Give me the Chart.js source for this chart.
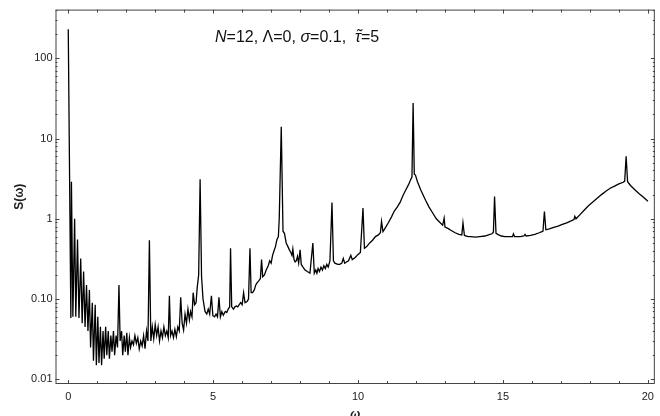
<!DOCTYPE html>
<html lang="en">
<head>
  <meta charset="UTF-8">
  <title>S(ω) spectrum</title>
  <style>
    body { margin: 0; background: white; }
    .container { width: 660px; height: 416px; }
  </style>
</head>
<body>
  <div class="container">
    <canvas id="spectrum-chart" width="660" height="416"></canvas>
  </div>

  <script src="https://cdn.jsdelivr.net/npm/chart.js@4.4.1/dist/chart.umd.min.js"></script>
  <script>
    // [ω, S(ω)], split by frequency band
    const lowBand = [
      [0, 230], [0.09, 0.058], [0.11, 2.9], [0.16, 0.06], [0.22, 1.0], [0.26, 0.06],
      [0.32, 0.55], [0.37, 0.058], [0.43, 0.32], [0.48, 0.05], [0.53, 0.22], [0.58, 0.045],
      [0.63, 0.15], [0.68, 0.04], [0.73, 0.13], [0.77, 0.025], [0.83, 0.09], [0.87, 0.017],
      [0.93, 0.085], [0.97, 0.015], [1.02, 0.06], [1.06, 0.016], [1.11, 0.045], [1.15, 0.015],
      [1.2, 0.04], [1.24, 0.018], [1.29, 0.045], [1.33, 0.02], [1.38, 0.04], [1.42, 0.018],
      [1.47, 0.035], [1.51, 0.022], [1.56, 0.04], [1.6, 0.02], [1.65, 0.035], [1.7, 0.025]
    ];
    const midBand = [
      [1.75, 0.15], [1.79, 0.03], [1.84, 0.04], [1.88, 0.02], [1.93, 0.035], [1.97, 0.022],
      [2.02, 0.038], [2.06, 0.02], [2.11, 0.033], [2.15, 0.025], [2.2, 0.03], [2.25, 0.027],
      [2.3, 0.035], [2.35, 0.028], [2.4, 0.033], [2.45, 0.024], [2.5, 0.03], [2.55, 0.026],
      [2.6, 0.035], [2.65, 0.024], [2.7, 0.04], [2.75, 0.03], [2.8, 0.54], [2.85, 0.03],
      [2.9, 0.045], [2.95, 0.032], [3.0, 0.048], [3.05, 0.035], [3.1, 0.045], [3.15, 0.03],
      [3.2, 0.04], [3.25, 0.033], [3.3, 0.045], [3.35, 0.035], [3.4, 0.04], [3.45, 0.033],
      [3.49, 0.11], [3.53, 0.035], [3.58, 0.04], [3.63, 0.033], [3.68, 0.042], [3.73, 0.034],
      [3.78, 0.045], [3.83, 0.04], [3.88, 0.105], [3.93, 0.05], [3.98, 0.041], [4.03, 0.065],
      [4.08, 0.05], [4.13, 0.075], [4.18, 0.055], [4.22, 0.07], [4.27, 0.06], [4.31, 0.12],
      [4.36, 0.085], [4.41, 0.09], [4.45, 0.14], [4.5, 0.2], [4.55, 3.1], [4.6, 0.19],
      [4.65, 0.1]
    ];
    const band3 = [
      [4.72, 0.07], [4.78, 0.065], [4.83, 0.075], [4.88, 0.065], [4.94, 0.11], [4.99, 0.062],
      [5.05, 0.06], [5.1, 0.065], [5.15, 0.06], [5.2, 0.105], [5.25, 0.06], [5.3, 0.07],
      [5.35, 0.063], [5.42, 0.07], [5.47, 0.068], [5.52, 0.075], [5.57, 0.08], [5.6, 0.43],
      [5.64, 0.08], [5.7, 0.075], [5.75, 0.08], [5.8, 0.082], [5.85, 0.08], [5.9, 0.085],
      [5.95, 0.09], [6.0, 0.085], [6.05, 0.12], [6.1, 0.09], [6.17, 0.093], [6.22, 0.1],
      [6.27, 0.43], [6.31, 0.12], [6.36, 0.12], [6.42, 0.13], [6.47, 0.15], [6.52, 0.16],
      [6.58, 0.17], [6.63, 0.18], [6.67, 0.31], [6.71, 0.19], [6.77, 0.2], [6.83, 0.23],
      [6.9, 0.26], [6.95, 0.3], [7.0, 0.28], [7.05, 0.35], [7.1, 0.4], [7.15, 0.45],
      [7.2, 0.55], [7.25, 0.6], [7.28, 1.0], [7.35, 14], [7.41, 0.7], [7.46, 0.66]
    ];
    const band4 = [
      [7.52, 0.5], [7.58, 0.45], [7.63, 0.41], [7.68, 0.38], [7.72, 0.35], [7.75, 0.42],
      [7.79, 0.31], [7.83, 0.29], [7.87, 0.3], [7.91, 0.34], [7.95, 0.28], [8.0, 0.41],
      [8.04, 0.27], [8.1, 0.25], [8.17, 0.23], [8.25, 0.22], [8.34, 0.21], [8.44, 0.5],
      [8.49, 0.21], [8.54, 0.23], [8.58, 0.21], [8.62, 0.24], [8.67, 0.22], [8.72, 0.25],
      [8.77, 0.23], [8.82, 0.26], [8.87, 0.24], [8.92, 0.27], [8.97, 0.25], [9.03, 0.3],
      [9.1, 1.6], [9.15, 0.3], [9.2, 0.28], [9.3, 0.27], [9.37, 0.27], [9.44, 0.28],
      [9.49, 0.32], [9.54, 0.28], [9.6, 0.29], [9.67, 0.3], [9.75, 0.35], [9.8, 0.31],
      [9.9, 0.33], [10.0, 0.36], [10.08, 0.38], [10.17, 1.36], [10.22, 0.43], [10.3, 0.45],
      [10.4, 0.5], [10.5, 0.54], [10.6, 0.6], [10.7, 0.63], [10.77, 0.67], [10.81, 0.93],
      [10.86, 0.69], [10.95, 0.78]
    ];
    const band5 = [
      [11.05, 0.9], [11.15, 1.05], [11.25, 1.25], [11.35, 1.4], [11.45, 1.6], [11.55, 1.95],
      [11.65, 2.3], [11.75, 2.7], [11.82, 3.1], [11.86, 3.3], [11.9, 27.8], [11.94, 3.6],
      [11.98, 3.5], [12.05, 2.9], [12.16, 2.3], [12.33, 1.7], [12.45, 1.4], [12.57, 1.19],
      [12.7, 1.0], [12.8, 0.92], [12.92, 0.83], [12.97, 1.02], [13.0, 0.79], [13.1, 0.76],
      [13.2, 0.72], [13.35, 0.67], [13.48, 0.64], [13.58, 0.63], [13.62, 0.89], [13.67, 0.62],
      [13.8, 0.6], [13.9, 0.6], [14.04, 0.59], [14.2, 0.6], [14.38, 0.61], [14.5, 0.63],
      [14.62, 0.65], [14.67, 0.68], [14.71, 1.9], [14.76, 0.66], [14.85, 0.63], [14.95, 0.61],
      [15.07, 0.6], [15.2, 0.6], [15.33, 0.6], [15.36, 0.65], [15.4, 0.6]
    ];
    const band6 = [
      [15.5, 0.6], [15.6, 0.6], [15.72, 0.61], [15.76, 0.64], [15.8, 0.61], [15.95, 0.62],
      [16.1, 0.64], [16.25, 0.67], [16.38, 0.7], [16.43, 1.23], [16.48, 0.73], [16.6, 0.75],
      [16.75, 0.78], [16.9, 0.81], [17.05, 0.85], [17.2, 0.89], [17.35, 0.94], [17.45, 0.98],
      [17.48, 1.07], [17.52, 1.0], [17.65, 1.12], [17.8, 1.28], [17.95, 1.45], [18.1, 1.62],
      [18.25, 1.8], [18.4, 2.0], [18.55, 2.2], [18.7, 2.4], [18.85, 2.55], [19.0, 2.72],
      [19.15, 2.85], [19.2, 2.95], [19.25, 6.0], [19.3, 2.9], [19.4, 2.6], [19.55, 2.3],
      [19.7, 2.05], [19.85, 1.85], [20.0, 1.65]
    ];

    const X_TICKS = [0, 1, 2, 3, 4, 5, 6, 7, 8, 9, 10, 11, 12, 13, 14, 15, 16, 17, 18, 19, 20];
    const X_LABELS = { 0: '0', 5: '5', 10: '10', 15: '15', 20: '20' };
    const Y_DECADES = [0.01, 0.1, 1, 10, 100];
    const Y_LABELS = ['0.01', '0.10', '1', '10', '100'];
    const Y_MANTISSAS = [1, 2, 3, 4, 5, 6, 7, 8, 9];
    // [text, italic, tilde above]
    const TITLE_PARTS = [
      ['N', true, false], ['=12, \u039B=0, ', false, false], ['\u03C3', true, false],
      ['=0.1,  ', false, false], ['\u03C4', true, true], ['=5', false, false]
    ];

    const X_MIN = -0.44, X_MAX = 20.24;
    const Y_MIN = 0.00874, Y_MAX = 404;
    const FONT = "'Liberation Sans', Arial, sans-serif";

    const yTicks = [];
    for (const d of Y_DECADES) {
      for (const m of Y_MANTISSAS) {
        const v = +(d * m).toPrecision(3);
        if (v >= Y_MIN && v <= Y_MAX) yTicks.push(v);
      }
    }

    function yLabel(v) {
      const i = Y_DECADES.findIndex(d => Math.abs(d - v) / d < 1e-6);
      return i === -1 ? '' : Y_LABELS[i];
    }

    const spectrum = [...lowBand, ...midBand, ...band3, ...band4, ...band5, ...band6]
      .map(([x, y]) => ({ x, y }));

    // frame with inward tick marks on all four sides
    const frameTicks = {
      id: 'frameTicks',
      afterDatasetsDraw(chart) {
        const { ctx, chartArea: a, scales: { x, y } } = chart;
        ctx.save();
        ctx.strokeStyle = '#444';
        ctx.lineWidth = 1;
        ctx.strokeRect(a.left + 0.5, a.top + 0.5, a.right - a.left - 1, a.bottom - a.top - 1);
        ctx.beginPath();
        for (const v of X_TICKS) {
          const px = Math.round(x.getPixelForValue(v)) + 0.5;
          const len = v % 5 === 0 ? 4 : 3;
          ctx.moveTo(px, a.bottom); ctx.lineTo(px, a.bottom - len);
          ctx.moveTo(px, a.top); ctx.lineTo(px, a.top + len);
        }
        for (const v of yTicks) {
          const py = Math.round(y.getPixelForValue(v)) + 0.5;
          const len = yLabel(v) ? 4 : 2;
          ctx.moveTo(a.left, py); ctx.lineTo(a.left + len, py);
          ctx.moveTo(a.right, py); ctx.lineTo(a.right - len, py);
        }
        ctx.stroke();
        ctx.restore();
      }
    };

    const titleText = {
      id: 'titleText',
      afterDraw(chart) {
        const { ctx } = chart;
        ctx.save();
        ctx.fillStyle = '#111';
        ctx.textBaseline = 'alphabetic';
        let x = 215;
        const base = 41.5;
        for (const [t, italic, tilde] of TITLE_PARTS) {
          ctx.font = `${italic ? 'italic ' : ''}16px ${FONT}`;
          ctx.fillText(t, x, base);
          const w = ctx.measureText(t).width;
          if (tilde) {
            ctx.textAlign = 'center';
            ctx.fillText('\u02DC', x + w / 2 + 1, base - 1);
            ctx.textAlign = 'left';
          }
          x += w;
        }
        ctx.restore();
      }
    };

    new Chart(document.getElementById('spectrum-chart'), {
      type: 'line',
      data: {
        datasets: [{
          data: spectrum,
          borderColor: '#000',
          borderWidth: 1.3,
          pointRadius: 0,
          tension: 0,
          fill: false
        }]
      },
      plugins: [frameTicks, titleText],
      options: {
        responsive: false,
        animation: false,
        devicePixelRatio: 1,
        layout: { padding: { top: 9, right: 1, left: 0, bottom: 0 } },
        plugins: { legend: { display: false }, tooltip: { enabled: false } },
        scales: {
          x: {
            type: 'linear',
            min: X_MIN,
            max: X_MAX,
            grid: { display: false, drawTicks: false },
            border: { display: false },
            afterBuildTicks: (scale) => { scale.ticks = X_TICKS.map(value => ({ value })); },
            afterFit: (scale) => { scale.height = 32; },
            ticks: {
              autoSkip: false,
              maxRotation: 0,
              padding: 6,
              color: '#222',
              font: { family: FONT, size: 11 },
              callback: (v) => X_LABELS[v] ?? ''
            },
            title: {
              display: true,
              text: '\u03C9',
              color: '#222',
              padding: { top: 0, bottom: -6 },
              font: { family: FONT, size: 12, style: 'italic', weight: 'bold' }
            }
          },
          y: {
            type: 'logarithmic',
            min: Y_MIN,
            max: Y_MAX,
            grid: { display: false, drawTicks: false },
            border: { display: false },
            afterBuildTicks: (scale) => { scale.ticks = yTicks.map(value => ({ value })); },
            afterFit: (scale) => { scale.width = 55.5; },
            ticks: {
              autoSkip: false,
              padding: 3,
              color: '#222',
              font: { family: FONT, size: 11 },
              callback: (v) => yLabel(v)
            },
            title: {
              display: true,
              text: 'S(\u03C9)',
              color: '#222',
              padding: { top: 12, bottom: 0 },
              font: { family: FONT, size: 12, weight: 'bold' }
            }
          }
        }
      }
    });
  </script>
</body>
</html>
